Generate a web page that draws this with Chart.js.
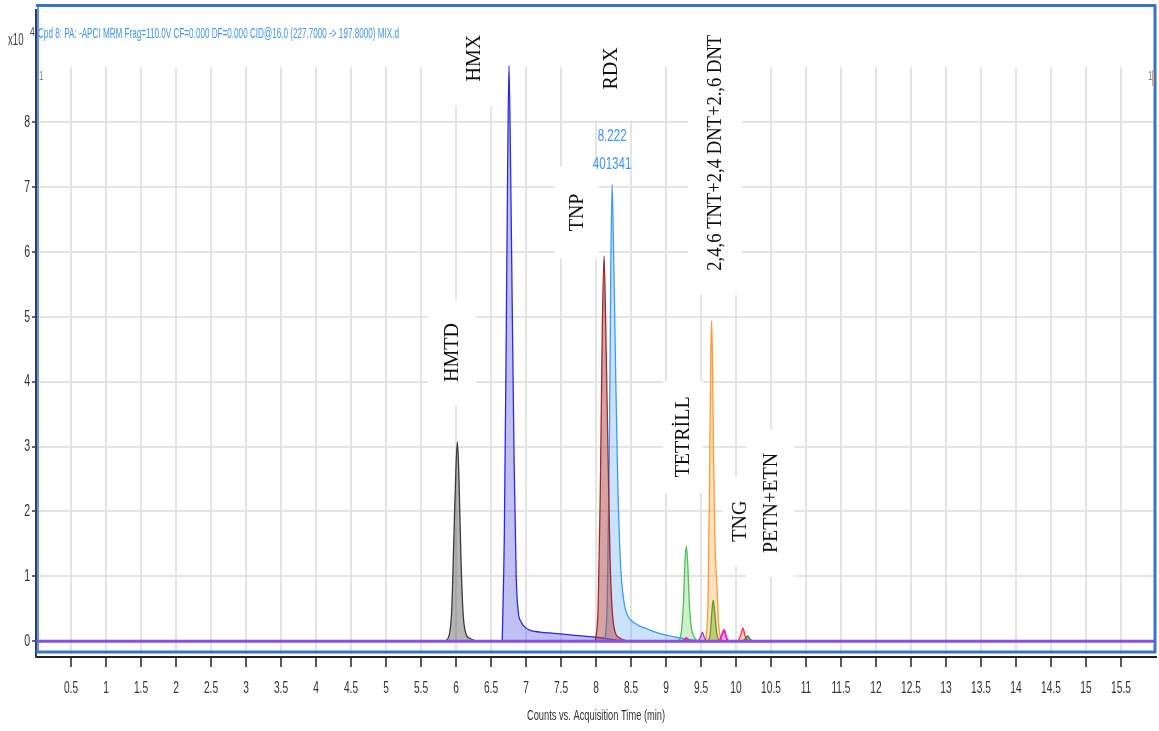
<!DOCTYPE html>
<html>
<head>
<meta charset="utf-8">
<title>MRM chromatogram</title>
<script src="https://cdn.jsdelivr.net/npm/chart.js@4.4.1/dist/chart.umd.min.js"></script>
<style>
  html, body { margin: 0; padding: 0; background: #fff; }
  #wrap { width: 1159px; height: 731px; }
</style>
</head>
<body>
<div id="wrap"><canvas id="chrom" width="1159" height="731"></canvas></div>
<script>
// retention time (min) and counts (x10^4), one pair per compound
const hmtdTime = [5.84, 5.90, 5.94, 5.97, 6.00, 6.02, 6.04, 6.07, 6.10, 6.14, 6.20, 6.30];
const hmtdCounts = [0, 0.08, 0.5, 1.6, 2.7, 3.07, 2.6, 1.3, 0.45, 0.12, 0.04, 0];

const hmxTime = [6.66, 6.69, 6.715, 6.737, 6.757, 6.78, 6.805, 6.83, 6.86, 6.89, 6.93, 6.98, 7.05, 7.2, 7.4, 7.6, 7.8, 8.0, 8.2, 8.4];
const hmxCounts = [0, 1.6, 4.4, 7.2, 8.87, 7.3, 5.0, 2.8, 1.0, 0.45, 0.3, 0.22, 0.17, 0.14, 0.12, 0.1, 0.08, 0.06, 0.03, 0];

const tnpTime = [7.99, 8.03, 8.06, 8.09, 8.115, 8.14, 8.17, 8.20, 8.23, 8.27, 8.35, 8.45];
const tnpCounts = [0, 0.5, 2.2, 4.8, 5.94, 4.8, 3.0, 1.3, 0.5, 0.15, 0.04, 0];

const rdxTime = [8.13, 8.16, 8.19, 8.21, 8.23, 8.25, 8.28, 8.31, 8.35, 8.40, 8.45, 8.55, 8.7, 8.9, 9.1, 9.3, 9.5];
const rdxCounts = [0, 0.6, 2.8, 5.6, 7.04, 6.1, 4.2, 2.5, 1.2, 0.6, 0.4, 0.28, 0.2, 0.12, 0.07, 0.03, 0];

const tetrilTime = [9.18, 9.22, 9.25, 9.27, 9.29, 9.31, 9.335, 9.36, 9.40, 9.45];
const tetrilCounts = [0, 0.15, 0.6, 1.2, 1.47, 1.2, 0.55, 0.22, 0.07, 0];

const tntTime = [9.57, 9.60, 9.62, 9.64, 9.652, 9.665, 9.68, 9.70, 9.715, 9.73, 9.75, 9.78, 9.82];
const tntCounts = [0, 0.6, 2.2, 4.4, 4.94, 4.2, 2.8, 1.5, 1.1, 0.8, 0.3, 0.05, 0];

const dntTime = [9.60, 9.63, 9.655, 9.675, 9.70, 9.725, 9.76];
const dntCounts = [0, 0.1, 0.45, 0.63, 0.4, 0.12, 0];

const tngTime = [10.03, 10.07, 10.10, 10.13, 10.17];
const tngCounts = [0, 0.1, 0.2, 0.08, 0];

const petnTime = [10.10, 10.14, 10.17, 10.20, 10.25];
const petnCounts = [0, 0.05, 0.08, 0.03, 0];

const violetTime = [9.46, 9.50, 9.52, 9.55, 9.58];
const violetCounts = [0, 0.08, 0.14, 0.05, 0];

const pinkTime = [8.05, 9.24, 9.29, 9.34, 9.76, 9.80, 9.83, 9.86, 9.90, 10.6];
const pinkCounts = [0, 0, 0.05, 0, 0, 0.1, 0.17, 0.06, 0, 0];

const baseTime = [0, 16];
const baseCounts = [0, 0];

// axis ticks
const xTicks = [0.5, 1, 1.5, 2, 2.5, 3, 3.5, 4, 4.5, 5, 5.5, 6, 6.5, 7, 7.5, 8, 8.5, 9, 9.5, 10, 10.5, 11, 11.5, 12, 12.5, 13, 13.5, 14, 14.5, 15, 15.5];
const yTicks = [0, 1, 2, 3, 4, 5, 6, 7, 8];

// compound names written beside the peaks (centre in time / counts)
const peakLabels = ['HMTD', 'HMX', 'TNP', 'RDX', '2,4,6 TNT+2,4 DNT+2.,6 DNT', 'TETRİLL', 'TNG', 'PETN+ETN'];
const labelTime = [5.94, 6.26, 7.73, 8.21, 9.70, 9.24, 10.06, 10.49];
const labelCounts = [4.45, 8.99, 6.61, 8.83, 7.53, 3.15, 1.85, 2.13];
const rdxApexText = ['8.222', '401341'];

const headerText = 'Cpd 8: PA: -APCI MRM Frag=110.0V CF=0.000 DF=0.000 CID@16.0 (227.7000 -> 197.8000) MIX.d';
const xTitle = 'Counts vs. Acquisition Time (min)';

const sans = "'Liberation Sans', Arial, sans-serif";
const serif = "'Liberation Serif', 'DejaVu Serif', serif";

// white box size (px) behind each rotated label, and squeeze along the text
const labelBoxes = [[48, 106], [48, 96], [44, 92], [46, 104], [54, 284], [40, 112], [36, 90], [48, 148]];
const labelSquash = [1, 1, 1, 1, 0.93, 1, 1, 1];

function toPoints(t, c) {
    return t.map((v, i) => ({ x: v, y: c[i] }));
}

function trace(label, t, c, stroke, fill, width) {
    return {
        label: label,
        data: toPoints(t, c),
        borderColor: stroke,
        backgroundColor: fill || 'transparent',
        borderWidth: width || 1.3,
        fill: fill ? 'origin' : false,
        pointRadius: 0,
        cubicInterpolationMode: 'monotone'
    };
}

// narrow text like the instrument software: draw then squeeze horizontally
function narrowText(ctx, txt, x, y, size, squeeze, align) {
    ctx.save();
    ctx.font = size + 'px ' + sans;
    ctx.textAlign = align || 'left';
    ctx.translate(x, y);
    ctx.scale(squeeze, 1);
    ctx.fillText(txt, 0, 0);
    ctx.restore();
}

// dataset 0 is painted last, so baselines go first
const datasets = [
    trace('base', baseTime, baseCounts, '#8a4fe6', null, 3),
    trace('pink', pinkTime, pinkCounts, '#f01fc8', 'rgba(240,40,200,0.35)', 2),
    trace('violet', violetTime, violetCounts, '#9b3fb0', 'rgba(160,80,190,0.35)'),
    trace('petn', petnTime, petnCounts, '#2f7a2a', 'rgba(60,130,50,0.5)'),
    trace('tng', tngTime, tngCounts, '#ff3030', 'rgba(255,60,60,0.3)'),
    trace('dnt', dntTime, dntCounts, '#5e9e1e', 'rgba(120,170,40,0.45)'),
    trace('tetril', tetrilTime, tetrilCounts, '#4cc24c', 'rgba(80,200,80,0.28)'),
    trace('tnt', tntTime, tntCounts, '#ff9a2e', 'rgba(255,170,80,0.35)'),
    trace('tnp', tnpTime, tnpCounts, '#a0282c', 'rgba(176,70,70,0.5)'),
    trace('rdx', rdxTime, rdxCounts, '#3a9af5', 'rgba(80,160,245,0.3)'),
    trace('hmx', hmxTime, hmxCounts, '#2a2adf', 'rgba(90,90,220,0.38)'),
    trace('hmtd', hmtdTime, hmtdCounts, '#3a3a3a', 'rgba(90,90,90,0.45)')
];

// header band, white boxes + rotated compound names; over the grid, under the traces
const peakLabelPlugin = {
    id: 'peakLabels',
    beforeDatasetsDraw(chart) {
        const { ctx, chartArea: a, scales: { x, y } } = chart;
        ctx.save();
        ctx.fillStyle = '#fff';
        ctx.fillRect(a.left + 3, a.top, a.right - a.left - 4, 57);
        peakLabels.forEach((txt, i) => {
            const px = x.getPixelForValue(labelTime[i]);
            const py = y.getPixelForValue(labelCounts[i]);
            const [w, h] = labelBoxes[i];
            ctx.fillRect(px - w / 2, py - h / 2, w, h);
        });
        ctx.fillStyle = '#111';
        ctx.font = '20px ' + serif;
        ctx.textAlign = 'center';
        ctx.textBaseline = 'middle';
        peakLabels.forEach((txt, i) => {
            const px = x.getPixelForValue(labelTime[i]);
            const py = y.getPixelForValue(labelCounts[i]);
            ctx.save();
            ctx.translate(px, py);
            ctx.rotate(-Math.PI / 2);
            ctx.scale(labelSquash[i], 1);
            ctx.fillText(txt, 0, 1);
            ctx.restore();
        });
        ctx.restore();
    }
};

// blue frame, condensed axis text, header line, exponent, apex annotation
const framePlugin = {
    id: 'frame',
    beforeDraw(chart) {
        const ctx = chart.ctx;
        ctx.save();
        ctx.fillStyle = '#fff';
        ctx.fillRect(0, 0, chart.width, chart.height);
        ctx.restore();
    },
    afterDraw(chart) {
        const { ctx, chartArea: a, scales: { x, y } } = chart;
        ctx.save();
        // gap between the frame and the time axis
        ctx.fillStyle = '#fff';
        ctx.fillRect(a.left + 2, 654, a.right - a.left - 3, 2);
        ctx.strokeStyle = '#3b73c9';
        ctx.lineWidth = 3;
        ctx.beginPath();
        ctx.moveTo(a.left, 5.5); ctx.lineTo(a.right, 5.5);
        ctx.moveTo(a.right - 1, 5); ctx.lineTo(a.right - 1, 653);
        ctx.moveTo(a.left, 652); ctx.lineTo(a.right, 652);
        ctx.stroke();
        ctx.lineWidth = 1.5;
        ctx.beginPath();
        ctx.moveTo(a.left + 2, 5); ctx.lineTo(a.left + 2, 653);
        ctx.stroke();

        // tick labels and axis title in the condensed look of the original
        ctx.fillStyle = '#333';
        ctx.textBaseline = 'middle';
        x.ticks.forEach(t => narrowText(ctx, String(t.value), x.getPixelForValue(t.value), 688, 17, 0.6, 'center'));
        y.ticks.forEach(t => narrowText(ctx, String(t.value), 30, y.getPixelForValue(t.value), 17, 0.62, 'right'));
        narrowText(ctx, xTitle, (a.left + a.right) / 2, 716, 15, 0.62, 'center');

        // header text, squeezed to the width it has in the original
        ctx.textBaseline = 'alphabetic';
        ctx.fillStyle = '#3f95f0';
        ctx.font = '15px ' + sans;
        const tw = ctx.measureText(headerText).width;
        narrowText(ctx, headerText, 38, 38, 15, 361 / tw, 'left');

        // x10^4 exponent
        ctx.fillStyle = '#444';
        narrowText(ctx, 'x10', 8, 45, 16, 0.6, 'left');
        narrowText(ctx, '4', 30, 36, 12, 0.7, 'left');

        // trace index markers
        ctx.fillStyle = '#888';
        narrowText(ctx, '1', 39, 80, 12, 0.7, 'left');
        narrowText(ctx, '1', 1148, 80, 12, 0.7, 'left');
        ctx.strokeStyle = '#f4a646';
        ctx.lineWidth = 1;
        ctx.beginPath();
        ctx.moveTo(1152.5, 70); ctx.lineTo(1152.5, 86);
        ctx.stroke();

        // retention time / area over the RDX apex
        const rx = x.getPixelForValue(8.23);
        const ry = y.getPixelForValue(7.04);
        ctx.fillStyle = '#3d95f5';
        ctx.textBaseline = 'middle';
        narrowText(ctx, rdxApexText[0], rx, ry - 48, 17, 0.68, 'center');
        narrowText(ctx, rdxApexText[1], rx, ry - 20, 17, 0.68, 'center');
        ctx.restore();
    }
};

document.addEventListener('DOMContentLoaded', () => {
    const ctx = document.getElementById('chrom').getContext('2d');
    new Chart(ctx, {
        type: 'line',
        data: { datasets: datasets },
        options: {
            responsive: false,
            devicePixelRatio: 1,
            animation: false,
            layout: { padding: { top: 5, right: 3, left: 0, bottom: 0 } },
            plugins: { legend: { display: false }, tooltip: { enabled: false } },
            scales: {
                x: {
                    type: 'linear',
                    min: 0,
                    max: 16,
                    afterBuildTicks: s => { s.ticks = xTicks.map(v => ({ value: v })); },
                    afterFit: s => { s.height = 74; },
                    grid: { color: '#e4e4e4', lineWidth: 2, tickLength: 10, tickColor: '#222', tickWidth: 1.5 },
                    border: { color: '#222', width: 2 },
                    ticks: { color: 'rgba(0,0,0,0)', autoSkip: false, maxRotation: 0 }
                },
                y: {
                    min: -0.2447,
                    max: 9.728,
                    afterBuildTicks: s => { s.ticks = yTicks.map(v => ({ value: v })); },
                    afterFit: s => { s.width = 36; },
                    grid: { color: '#e4e4e4', lineWidth: 2, tickLength: 4, tickColor: '#333', tickWidth: 1.5 },
                    border: { color: '#2b3f6b', width: 2 },
                    ticks: { color: 'rgba(0,0,0,0)' }
                }
            }
        },
        plugins: [peakLabelPlugin, framePlugin]
    });
});
</script>
</body>
</html>
